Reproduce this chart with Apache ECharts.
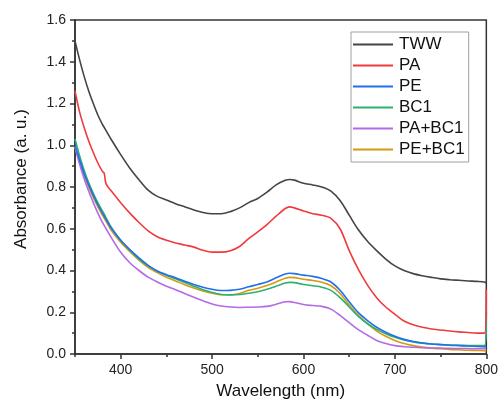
<!DOCTYPE html>
<html>
<head>
<meta charset="utf-8">
<script src="https://cdn.jsdelivr.net/npm/echarts@6/dist/echarts.min.js"></script>
<style>html,body{margin:0;padding:0;background:#fff}#c{width:501px;height:406px}</style>
</head>
<body>
<div id="c"></div>
<script>
const wavelength = [350,355,360,365,370,375,380,382,384,390,400,410,420,430,440,450,460,470,480,490,500,510,520,530,540,550,560,570,580,585,590,600,610,620,630,640,650,660,670,680,690,700,710,720,730,740,750,760,770,780,790,798,800];
const seriesNames = ['TWW','PA','PE','BC1','PA+BC1','PE+BC1'];
const TWW = [1.50,1.41,1.33,1.26,1.20,1.145,1.10,1.085,1.07,1.025,0.955,0.89,0.835,0.785,0.755,0.738,0.72,0.705,0.69,0.678,0.672,0.672,0.682,0.70,0.725,0.745,0.775,0.81,0.832,0.836,0.833,0.818,0.81,0.80,0.78,0.735,0.665,0.595,0.54,0.495,0.455,0.422,0.40,0.385,0.375,0.367,0.36,0.356,0.353,0.35,0.348,0.345,0.34];
const PA = [1.26,1.16,1.085,1.02,0.965,0.915,0.875,0.865,0.815,0.78,0.725,0.675,0.63,0.59,0.562,0.545,0.532,0.522,0.512,0.497,0.488,0.488,0.495,0.515,0.553,0.585,0.62,0.66,0.697,0.705,0.70,0.685,0.672,0.665,0.65,0.60,0.495,0.405,0.33,0.27,0.225,0.19,0.158,0.14,0.128,0.12,0.115,0.11,0.106,0.103,0.10,0.10,0.31];
const PE = [1.00,0.93,0.865,0.81,0.76,0.715,0.675,0.66,0.645,0.60,0.545,0.50,0.46,0.425,0.398,0.38,0.365,0.348,0.333,0.32,0.31,0.304,0.305,0.31,0.322,0.333,0.345,0.365,0.383,0.387,0.385,0.378,0.372,0.362,0.345,0.305,0.25,0.198,0.16,0.128,0.104,0.085,0.07,0.06,0.053,0.048,0.045,0.042,0.04,0.038,0.036,0.035,0.04];
const BC1 = [1.03,0.95,0.88,0.82,0.77,0.725,0.685,0.67,0.652,0.605,0.545,0.497,0.455,0.422,0.397,0.377,0.36,0.343,0.325,0.308,0.295,0.285,0.283,0.285,0.291,0.298,0.31,0.325,0.34,0.343,0.342,0.333,0.327,0.32,0.305,0.27,0.225,0.18,0.145,0.118,0.097,0.08,0.067,0.058,0.052,0.048,0.045,0.043,0.042,0.041,0.04,0.04,0.2];
const PA_BC1 = [0.99,0.91,0.84,0.78,0.725,0.675,0.63,0.615,0.60,0.555,0.487,0.437,0.40,0.368,0.345,0.325,0.308,0.29,0.272,0.255,0.24,0.23,0.225,0.223,0.224,0.225,0.228,0.238,0.25,0.251,0.247,0.237,0.232,0.228,0.215,0.185,0.15,0.117,0.09,0.065,0.05,0.04,0.035,0.032,0.03,0.029,0.028,0.027,0.026,0.026,0.025,0.025,0.25];
const PE_BC1 = [0.99,0.92,0.855,0.80,0.75,0.705,0.665,0.65,0.635,0.59,0.535,0.49,0.45,0.415,0.39,0.368,0.35,0.332,0.316,0.302,0.291,0.284,0.284,0.29,0.305,0.315,0.328,0.345,0.363,0.367,0.366,0.358,0.352,0.344,0.327,0.29,0.235,0.185,0.145,0.11,0.085,0.065,0.05,0.04,0.033,0.028,0.025,0.022,0.02,0.018,0.017,0.016,0.016];
const xMajorTicks = [400,500,600,700,800];
const xMinorTicks = [350,450,550,650,750];
const colors = ['#454545','#f03a3c','#2070ec','#30b06e','#b36ae4','#d49a10'];
const allValues = [TWW, PA, PE, BC1, PA_BC1, PE_BC1];

const FONT = "'Liberation Sans', Arial, sans-serif";
const chart = echarts.init(document.getElementById('c'), null, {renderer: 'canvas'});
const axisLineStyle = {color: '#333', width: 1.5};

chart.setOption({
  animation: false,
  backgroundColor: '#fff',
  textStyle: {fontFamily: FONT},
  grid: {left: 75, right: 13, top: 20, bottom: 52, show: true, borderColor: '#333', borderWidth: 1.5, backgroundColor: 'transparent'},
  legend: {
    orient: 'vertical', left: 351, top: 32,
    padding: [4, 4, 4, 2], itemGap: 4, itemWidth: 40, itemHeight: 2,
    icon: 'rect', borderColor: '#a0a0a0', borderWidth: 1, backgroundColor: '#fff',
    textStyle: {fontSize: 17, color: '#111', fontFamily: FONT, padding: [0,0,0,1]},
    data: seriesNames
  },
  xAxis: [{
    type: 'value', min: 350, max: 800, gridIndex: 0,
    name: 'Wavelength (nm)', nameLocation: 'middle', nameGap: 29,
    nameTextStyle: {fontSize: 17, color: '#111', fontFamily: FONT},
    axisLine: {show: true, lineStyle: axisLineStyle},
    axisTick: {show: true, length: 5, lineStyle: axisLineStyle, customValues: xMajorTicks},
    axisLabel: {fontSize: 14, color: '#222', margin: 9, fontFamily: FONT, customValues: xMajorTicks},
    splitLine: {show: false}
  }, {
    type: 'value', min: 350, max: 800, gridIndex: 0, position: 'bottom',
    axisLine: {show: false},
    axisTick: {show: true, length: 3, lineStyle: axisLineStyle, customValues: xMinorTicks},
    axisLabel: {show: false},
    splitLine: {show: false}
  }],
  yAxis: {
    type: 'value', min: 0, max: 1.6, interval: 0.2,
    name: 'Absorbance (a. u.)', nameLocation: 'middle', nameGap: 45,
    nameTextStyle: {fontSize: 17, color: '#111', fontFamily: FONT, padding: [0,0,0,16]},
    axisLine: {show: true, lineStyle: axisLineStyle},
    axisTick: {show: true, length: 5, lineStyle: axisLineStyle},
    minorTick: {show: true, splitNumber: 2, length: 3, lineStyle: axisLineStyle},
    axisLabel: {fontSize: 14, color: '#222', margin: 9, fontFamily: FONT, formatter: v => v.toFixed(1)},
    splitLine: {show: false}
  },
  series: seriesNames.map((n, i) => ({
    name: n, type: 'line', xAxisIndex: 0,
    data: wavelength.map((w, j) => [w, allValues[i][j]]),
    showSymbol: false, symbol: 'none', smooth: 0.3,
    color: colors[i],
    lineStyle: {width: 1.6, color: colors[i]},
    z: 10 - i
  }))
});
</script>
</body>
</html>
